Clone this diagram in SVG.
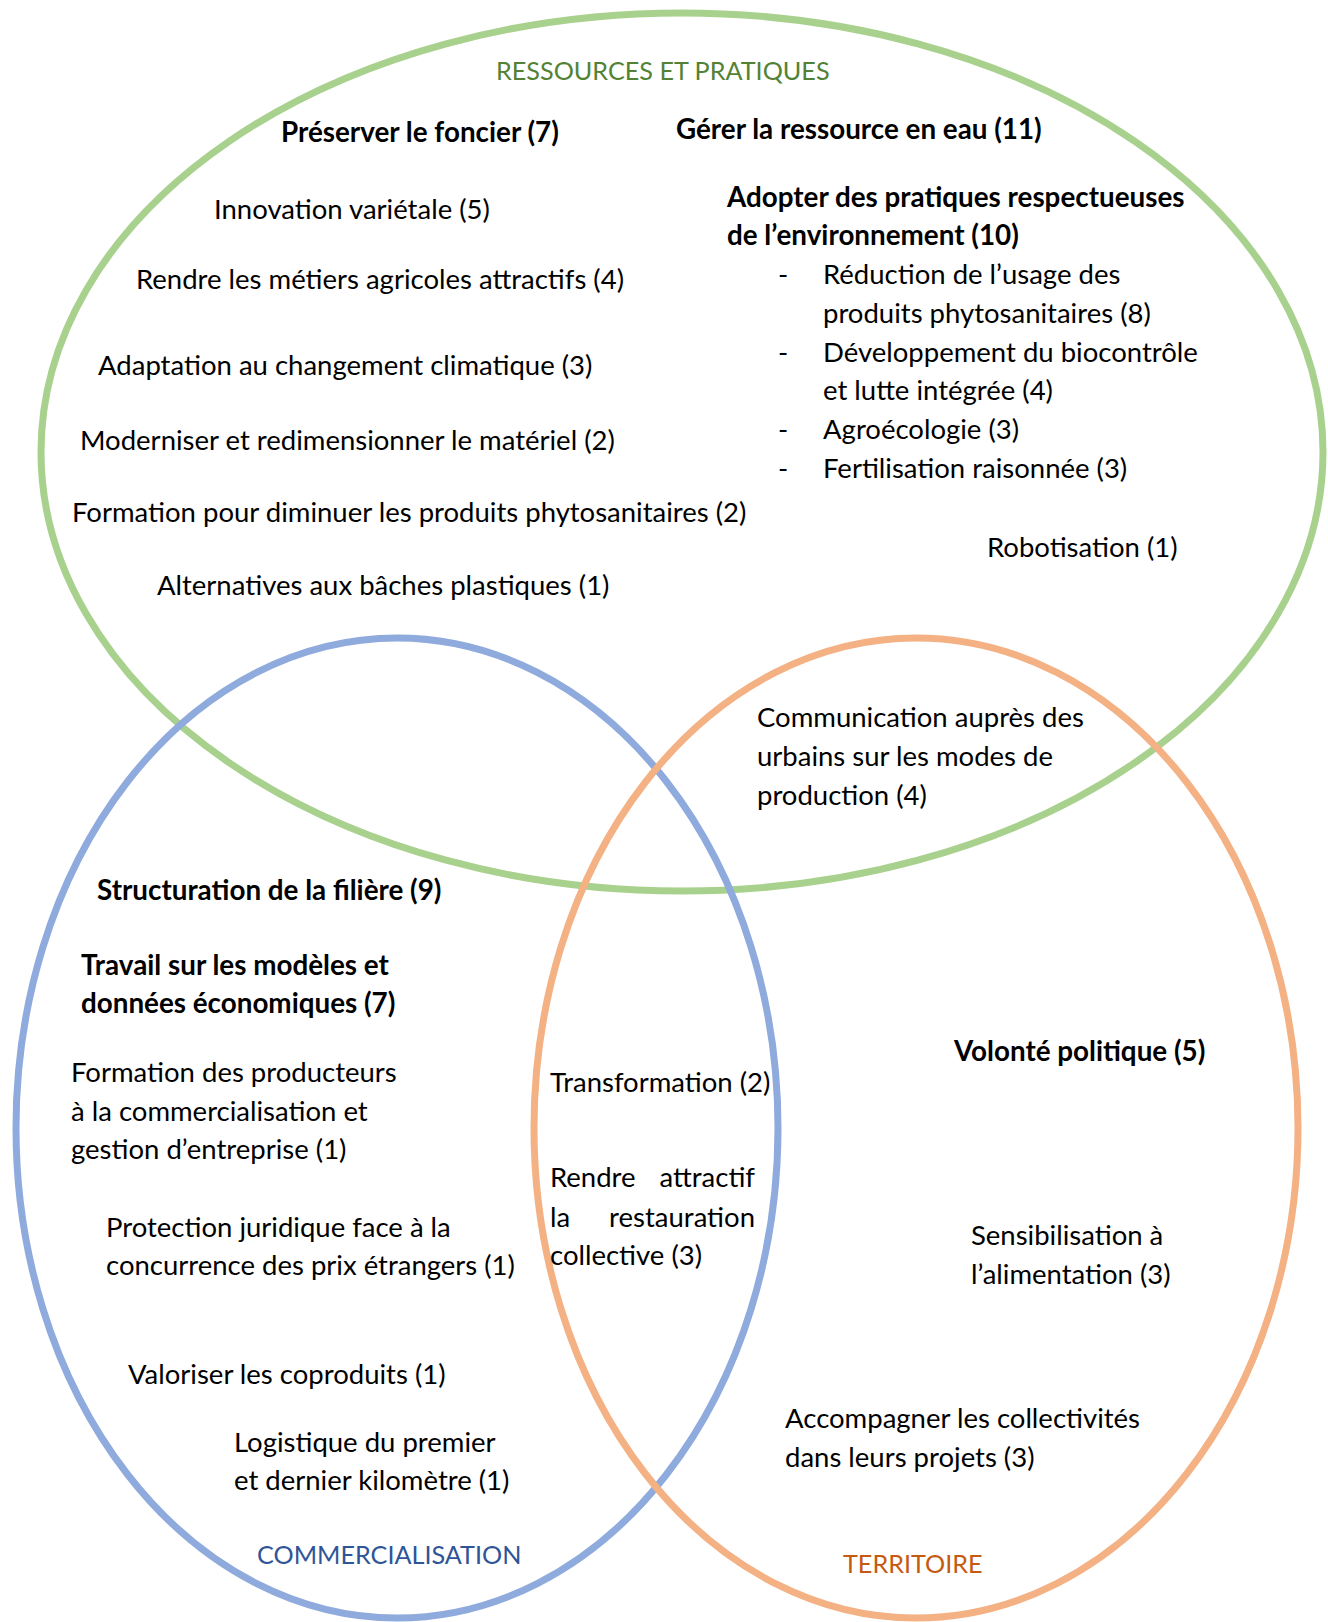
<svg xmlns="http://www.w3.org/2000/svg" width="1328" height="1622" viewBox="0 0 1328 1622">
<style>
.t{font-family:Lato,"Liberation Sans",sans-serif;font-size:27.5px;fill:#000}
.b{font-weight:bold;font-size:27.8px}
.h{font-size:25.2px}
.ring{fill:none;stroke-width:7}
</style>
<rect width="1328" height="1622" fill="#fff"/>
<g id="cercle-ressources"><ellipse class="ring" cx="682" cy="452" rx="641" ry="439" stroke="#A9D18E"/></g>
<g id="cercle-commercialisation"><ellipse class="ring" cx="397" cy="1128" rx="381" ry="490" stroke="#8FAADC"/></g>
<g id="cercle-territoire"><ellipse class="ring" cx="916" cy="1128" rx="382" ry="490" stroke="#F4B183"/></g>

<g id="titre-ressources"><text class="t h" x="496" y="80" style="fill:#548235">RESSOURCES ET PRATIQUES</text></g>
<g id="titre-commercialisation"><text class="t h" x="257" y="1564" style="fill:#2F5597">COMMERCIALISATION</text></g>
<g id="titre-territoire"><text class="t h" x="843" y="1573" style="fill:#C55A11">TERRITOIRE</text></g>

<g id="foncier"><text class="t b" x="281" y="142">Préserver le foncier (7)</text></g>
<g id="eau"><text class="t b" x="676" y="139">Gérer la ressource en eau (11)</text></g>
<g id="innovation"><text class="t" x="214" y="219">Innovation variétale (5)</text></g>
<g id="metiers"><text class="t" x="136" y="289">Rendre les métiers agricoles attractifs (4)</text></g>
<g id="adaptation"><text class="t" x="98" y="375">Adaptation au changement climatique (3)</text></g>
<g id="materiel"><text class="t" x="80" y="450">Moderniser et redimensionner le matériel (2)</text></g>
<g id="formation-phyto"><text class="t" x="72" y="522">Formation pour diminuer les produits phytosanitaires (2)</text></g>
<g id="baches"><text class="t" x="157" y="595">Alternatives aux bâches plastiques (1)</text></g>
<g id="pratiques">
<text class="t b" x="727" y="207">Adopter des pratiques respectueuses</text>
<text class="t b" x="727" y="245">de l’environnement (10)</text>
<text class="t" x="778" y="284">-</text><text class="t" x="823" y="284">Réduction de l’usage des</text>
<text class="t" x="823" y="323">produits phytosanitaires (8)</text>
<text class="t" x="778" y="362">-</text><text class="t" x="823" y="362">Développement du biocontrôle</text>
<text class="t" x="823" y="400">et lutte intégrée (4)</text>
<text class="t" x="778" y="439">-</text><text class="t" x="823" y="439">Agroécologie (3)</text>
<text class="t" x="778" y="478">-</text><text class="t" x="823" y="478">Fertilisation raisonnée (3)</text>
</g>
<g id="robotisation"><text class="t" x="987" y="557">Robotisation (1)</text></g>
<g id="communication">
<text class="t" x="757" y="727">Communication auprès des</text>
<text class="t" x="757" y="766">urbains sur les modes de</text>
<text class="t" x="757" y="805">production (4)</text>
</g>

<g id="structuration"><text class="t b" x="97" y="900">Structuration de la filière (9)</text></g>
<g id="modeles">
<text class="t b" x="81" y="975">Travail sur les modèles et</text>
<text class="t b" x="81" y="1013">données économiques (7)</text>
</g>
<g id="formation-producteurs">
<text class="t" x="71" y="1082">Formation des producteurs</text>
<text class="t" x="71" y="1121">à la commercialisation et</text>
<text class="t" x="71" y="1159">gestion d’entreprise (1)</text>
</g>
<g id="protection">
<text class="t" x="106" y="1237">Protection juridique face à la</text>
<text class="t" x="106" y="1275">concurrence des prix étrangers (1)</text>
</g>
<g id="coproduits"><text class="t" x="128" y="1384">Valoriser les coproduits (1)</text></g>
<g id="logistique">
<text class="t" x="234" y="1452">Logistique du premier</text>
<text class="t" x="234" y="1490">et dernier kilomètre (1)</text>
</g>

<g id="transformation"><text class="t" x="550" y="1092">Transformation (2)</text></g>
<g id="restauration">
<text class="t" x="550" y="1187">Rendre</text><text class="t" x="755" y="1187" text-anchor="end">attractif</text>
<text class="t" x="550" y="1227">la</text><text class="t" x="755" y="1227" text-anchor="end">restauration</text>
<text class="t" x="550" y="1265">collective (3)</text>
</g>

<g id="volonte"><text class="t b" x="954" y="1061">Volonté politique (5)</text></g>
<g id="sensibilisation">
<text class="t" x="971" y="1245">Sensibilisation à</text>
<text class="t" x="971" y="1284">l’alimentation (3)</text>
</g>
<g id="accompagner">
<text class="t" x="785" y="1428">Accompagner les collectivités</text>
<text class="t" x="785" y="1467">dans leurs projets (3)</text>
</g>
</svg>
